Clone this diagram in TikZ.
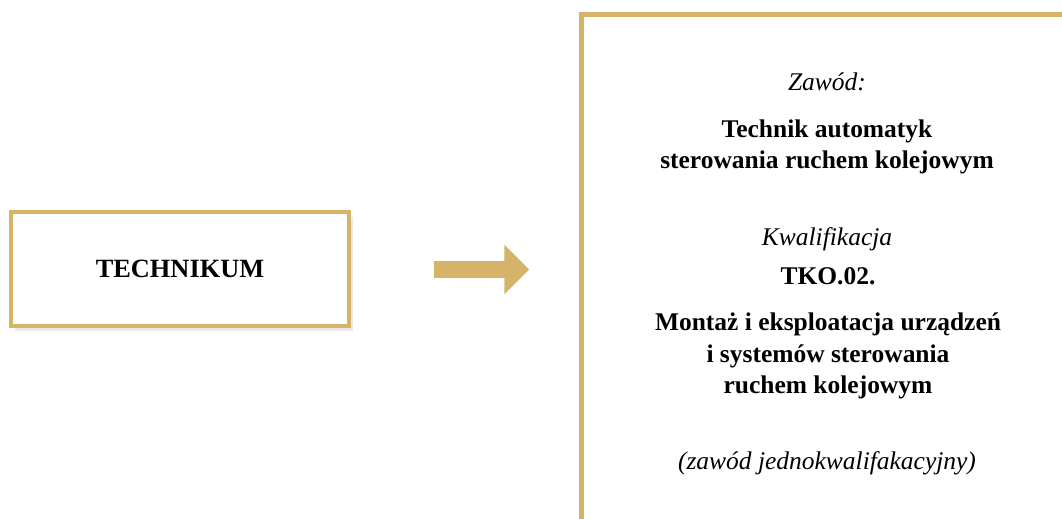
\documentclass[tikz,border=0pt]{standalone}
\usepackage{fontspec}
\setmainfont{Liberation Serif}
\usetikzlibrary{shapes,arrows,shadows}
\definecolor{gold}{RGB}{213,180,106}
\tikzset{
	stage/.style   = {draw=gold, line width=2.8pt, rectangle, fill=white,
		minimum width=6.76cm, minimum height=2.28cm,
		font=\fontsize{15}{18}\selectfont\bfseries},
	panel/.style   = {draw=gold, line width=2.8pt, rectangle,
		minimum width=10.37cm, minimum height=10.92cm},
	pointer/.style = {single arrow, fill=gold, draw=none, inner xsep=0pt, inner ysep=0.16cm,
		minimum height=1.9cm, minimum width=0.98cm, single arrow head extend=0.33cm},
	label/.style   = {anchor=base, font=\fontsize{14.5}{18}\selectfont\itshape}, % italic
	title/.style   = {anchor=base, align=center, font=\fontsize{14.5}{18}\selectfont\bfseries} % bold
}

\begin{document}
\begin{tikzpicture}[x=0.02cm, y=-0.02cm]
	\path[use as bounding box, clip] (0,0) rectangle (1062,519);
	\draw
	node at (180,269) [stage, drop shadow={shadow xshift=0.08cm, shadow yshift=-0.1cm, opacity=0.18}] (tech) {TECHNIKUM}
	node at (477.5,269.5) [pointer] (arr) {}
	node at (840.75,287) [panel] (box) {}
	node at (827,91) [label] (zlab) {Zawód:}
	node at (827,169) [title] (zname) {Technik automatyk\\ sterowania ruchem kolejowym}
	node at (827,246) [label] (klab) {Kwalifikacja}
	node at (828,285) [title] (kcode) {TKO.02.}
	node at (828,394) [title] (kname) {Montaż i eksploatacja urządzeń\\ i systemów sterowania\\ ruchem kolejowym}
	node at (827,470) [label] (note) {(zawód jednokwalifakacyjny)}
	;
\end{tikzpicture}
\end{document}
